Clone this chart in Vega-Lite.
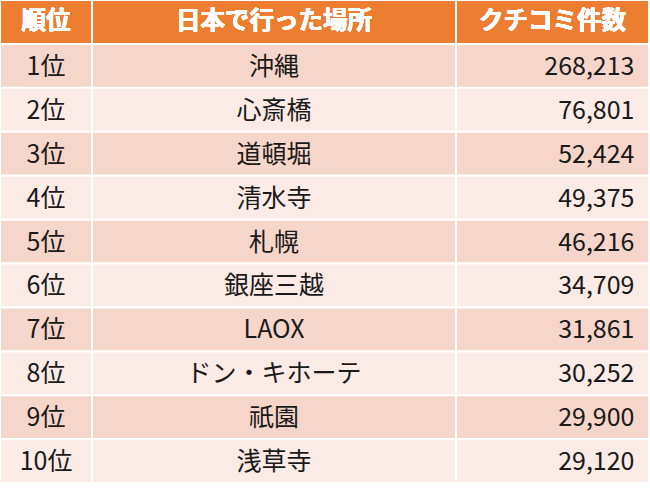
{
  "$schema": "https://vega.github.io/schema/vega-lite/v6.json",
  "background": "white",
  "padding": {"left": 1, "top": 1, "right": 0, "bottom": 0},
  "spacing": 2,
  "config": {
    "view": {"stroke": null},
    "text": {"font": "Noto Sans CJK JP"},
    "concat": {"spacing": 2}
  },
  "datasets": {
    "rows": [
      {"r": 1, "rank": "1位", "place": "沖縄", "count": 268213},
      {"r": 2, "rank": "2位", "place": "心斎橋", "count": 76801},
      {"r": 3, "rank": "3位", "place": "道頓堀", "count": 52424},
      {"r": 4, "rank": "4位", "place": "清水寺", "count": 49375},
      {"r": 5, "rank": "5位", "place": "札幌", "count": 46216},
      {"r": 6, "rank": "6位", "place": "銀座三越", "count": 34709},
      {"r": 7, "rank": "7位", "place": "LAOX", "count": 31861},
      {"r": 8, "rank": "8位", "place": "ドン・キホーテ", "count": 30252},
      {"r": 9, "rank": "9位", "place": "祇園", "count": 29900},
      {"r": 10, "rank": "10位", "place": "浅草寺", "count": 29120}
    ]
  },
  "data": {"name": "rows"},
  "hconcat": [
    {
      "width": 90,
      "height": 481,
      "encoding": {
        "x": {"datum": "c", "type": "nominal", "axis": null, "scale": {"paddingInner": 0, "paddingOuter": 0}}
      },
      "layer": [
        {
          "mark": {"type": "rect"},
          "encoding": {
            "y": {"field": "r", "type": "ordinal", "axis": null, "scale": {"domain": [0,1,2,3,4,5,6,7,8,9,10], "paddingInner": 0.05, "paddingOuter": 0}},
            "fill": {"condition": {"test": "datum.r % 2 == 1", "value": "#F6D5CB"}, "value": "#FBEBE7"}
          }
        },
        {
          "mark": {"type": "rect", "fill": "#ED7D31"},
          "encoding": {"y": {"datum": 0, "type": "ordinal"}}
        },
        {
          "mark": {"type": "text", "text": "順位", "fill": "white", "fontWeight": "bold", "fontSize": 24.5, "baseline": "middle"},
          "encoding": {"y": {"datum": 0, "type": "ordinal"}}
        },
        {
          "mark": {"type": "text", "fill": "#1a1a1a", "fontSize": 25, "baseline": "middle", "dy": 1},
          "encoding": {
            "y": {"field": "r", "type": "ordinal"},
            "text": {"field": "rank", "type": "nominal"}
          }
        }
      ]
    },
    {
      "width": 362,
      "height": 481,
      "encoding": {
        "x": {"datum": "c", "type": "nominal", "axis": null, "scale": {"paddingInner": 0, "paddingOuter": 0}}
      },
      "layer": [
        {
          "mark": {"type": "rect"},
          "encoding": {
            "y": {"field": "r", "type": "ordinal", "axis": null, "scale": {"domain": [0,1,2,3,4,5,6,7,8,9,10], "paddingInner": 0.05, "paddingOuter": 0}},
            "fill": {"condition": {"test": "datum.r % 2 == 1", "value": "#F6D5CB"}, "value": "#FBEBE7"}
          }
        },
        {
          "mark": {"type": "rect", "fill": "#ED7D31"},
          "encoding": {"y": {"datum": 0, "type": "ordinal"}}
        },
        {
          "mark": {"type": "text", "text": "日本で行った場所", "fill": "white", "fontWeight": "bold", "fontSize": 24.5, "baseline": "middle"},
          "encoding": {"y": {"datum": 0, "type": "ordinal"}}
        },
        {
          "mark": {"type": "text", "fill": "#1a1a1a", "fontSize": 25, "baseline": "middle", "dy": 1},
          "encoding": {
            "y": {"field": "r", "type": "ordinal"},
            "text": {"field": "place", "type": "nominal"}
          }
        }
      ]
    },
    {
      "width": 191,
      "height": 481,
      "encoding": {
        "x": {"datum": "c", "type": "nominal", "axis": null, "scale": {"paddingInner": 0, "paddingOuter": 0}}
      },
      "layer": [
        {
          "mark": {"type": "rect"},
          "encoding": {
            "y": {"field": "r", "type": "ordinal", "axis": null, "scale": {"domain": [0,1,2,3,4,5,6,7,8,9,10], "paddingInner": 0.05, "paddingOuter": 0}},
            "fill": {"condition": {"test": "datum.r % 2 == 1", "value": "#F6D5CB"}, "value": "#FBEBE7"}
          }
        },
        {
          "mark": {"type": "rect", "fill": "#ED7D31"},
          "encoding": {"y": {"datum": 0, "type": "ordinal"}}
        },
        {
          "mark": {"type": "text", "text": "クチコミ件数", "fill": "white", "fontWeight": "bold", "fontSize": 24.5, "baseline": "middle"},
          "encoding": {"y": {"datum": 0, "type": "ordinal"}}
        },
        {
          "mark": {"type": "text", "fill": "#1a1a1a", "fontSize": 25, "baseline": "middle", "align": "right", "dx": 82, "dy": 1},
          "encoding": {
            "y": {"field": "r", "type": "ordinal"},
            "text": {"field": "count", "type": "quantitative", "format": ","}
          }
        }
      ]
    }
  ]
}
